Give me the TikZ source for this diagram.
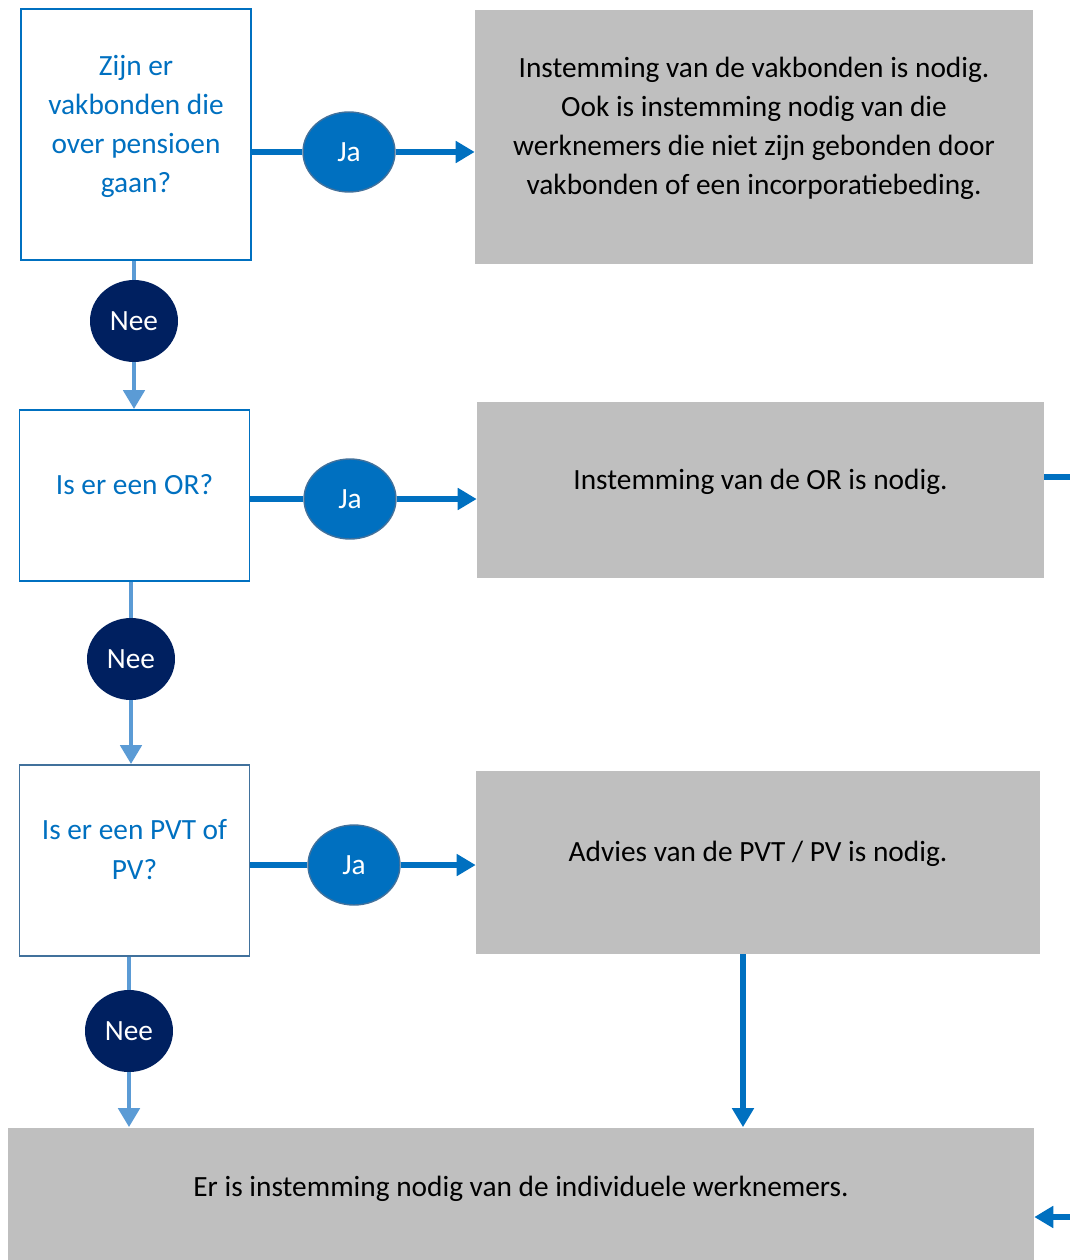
\documentclass[tikz,border=0pt]{standalone}
\usepackage{fontspec}
\setmainfont{Carlito}
\usetikzlibrary{arrows.meta,shapes.geometric}
\definecolor{janavy}{HTML}{0070C0}
\definecolor{neenavy}{HTML}{002060}
\definecolor{neeline}{HTML}{5B9BD5}
\definecolor{slate}{HTML}{41719C}
\definecolor{greybox}{HTML}{BFBFBF}
\begin{document}
\begin{tikzpicture}[x=0.02cm,y=-0.02cm,
    every node/.style={font=\fontsize{16.7}{22.2}\selectfont},
    qbox/.style={draw=janavy,line width=1.1pt,text=janavy,align=center,
      minimum width=4.6cm,text depth=12.6pt},
    abox/.style={fill=greybox,align=center,text depth=12.6pt},
    ja/.style={ellipse,draw=slate,line width=0.8pt,fill=janavy,text=white,
      minimum width=1.84cm,minimum height=1.6cm,inner sep=0pt},
    nee/.style={ellipse,fill=neenavy,text=white,
      minimum width=1.76cm,minimum height=1.64cm,inner sep=0pt},
    tip/.style={-{Triangle[length=0.38cm,width=0.42cm]}}]
  \useasboundingbox (0,0) rectangle (1070,1260);
  \draw
    (136,134.5) node[qbox,minimum height=5.02cm] (q1){Zijn er\\vakbonden die\\over pensioen\\gaan?}
    (134.5,495.5) node[qbox,minimum height=3.42cm] (q2){Is er een OR?}
    (134.5,860.5) node[qbox,draw=slate,minimum height=3.82cm] (q3){Is er een PVT of\\PV?}
    (754,137) node[abox,minimum width=11.16cm,minimum height=5.08cm] (a1){Instemming van de vakbonden is nodig.\\Ook is instemming nodig van die\\werknemers die niet zijn gebonden door\\vakbonden of een incorporatiebeding.}
    (760.5,490) node[abox,minimum width=11.34cm,minimum height=3.52cm] (a2){Instemming van de OR is nodig.}
    (758,862.5) node[abox,minimum width=11.28cm,minimum height=3.66cm] (a3){Advies van de PVT / PV is nodig.}
    (521,1195) node[abox,text depth=10pt,minimum width=20.52cm,minimum height=2.7cm] (bot){Er is instemming nodig van de individuele werknemers.}
    (349,152) node[ja] (ja1){Ja}
    (350,499) node[ja] (ja2){Ja}
    (354,865) node[ja] (ja3){Ja}
    (134,321) node[nee] (nee1){Nee}
    (131,659) node[nee] (nee2){Nee}
    (129,1031) node[nee] (nee3){Nee};
  \coordinate (r1) at (1070,477);
  \coordinate (r2) at (1070,1217);
  % ja
  \begin{scope}[janavy,line width=2.9pt]
    \draw (q1.east |- ja1) to (ja1);
    \draw[tip] (ja1) to (a1.west |- ja1);
    \draw (q2.east |- ja2) to (ja2);
    \draw[tip] (ja2) to (a2.west |- ja2);
    \draw (q3.east |- ja3) to (ja3);
    \draw[tip] (ja3) to (a3.west |- ja3);
    \draw[tip] ([xshift=-0.3cm]a3.south) to ([xshift=-0.3cm]a3.south |- bot.north);
    \draw (a2.east |- r1) to (r1);
    \draw[tip] (r2) to (bot.east |- r2);
  \end{scope}
  % nee
  \begin{scope}[neeline,line width=2.7pt]
    \draw (q1.south -| nee1) to (nee1);
    \draw[tip] (nee1) to (q2.north -| nee1);
    \draw (q2.south -| nee2) to (nee2);
    \draw[tip] (nee2) to (q3.north -| nee2);
    \draw (q3.south -| nee3) to (nee3);
    \draw[tip] (nee3) to (bot.north -| nee3);
  \end{scope}
\end{tikzpicture}
\end{document}
